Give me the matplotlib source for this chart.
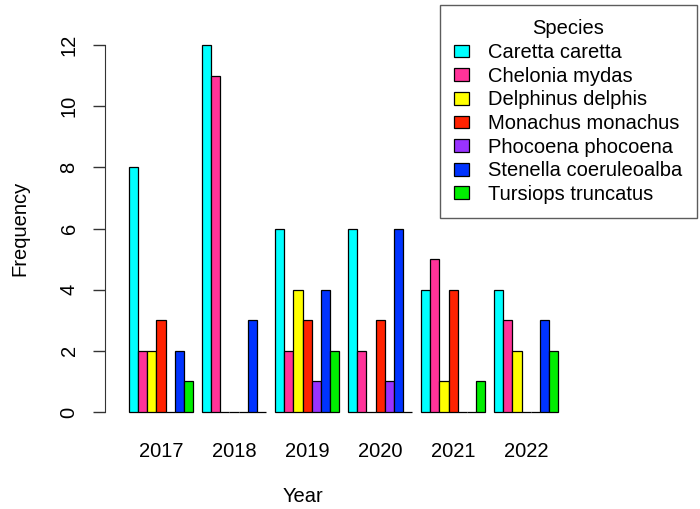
import numpy as np
import matplotlib.pyplot as plt
from matplotlib.patches import Patch

plt.rcParams['font.family'] = ['Liberation Sans', 'DejaVu Sans']

years = ['2017', '2018', '2019', '2020', '2021', '2022']
species = ['Caretta caretta', 'Chelonia mydas', 'Delphinus delphis',
           'Monachus monachus', 'Phocoena phocoena', 'Stenella coeruleoalba',
           'Tursiops truncatus']
colors = ['#00FFFF', '#FF3399', '#FFFF00', '#FF2200', '#9933FF', '#0033FF', '#00EE00']

caretta = [8, 12, 6, 6, 4, 4]
chelonia = [2, 11, 2, 2, 5, 3]
delphinus = [2, 0, 4, 0, 1, 2]
monachus = [3, 0, 3, 3, 4, 0]
phocoena = [0, 0, 1, 1, 0, 0]
stenella = [2, 3, 4, 6, 0, 3]
tursiops = [1, 0, 2, 0, 1, 2]
counts = [caretta, chelonia, delphinus, monachus, phocoena, stenella, tursiops]

FS = 14.5

fig = plt.figure(figsize=(7, 5.09), dpi=100)
W, H = 700, 509
left_px, right_px = 105, 697
top_px, bot_px = 30.3, 426.7
ax = fig.add_axes([left_px / W, 1 - bot_px / H, (right_px - left_px) / W, (bot_px - top_px) / H])

# R style barplot positions: groups of 7 bars, one bar gap between groups
unit = 9.13
x0 = (left_px - 119.9) / unit
x1 = (right_px - 119.9) / unit
ax.set_xlim(x0, x1)
ax.set_ylim(-0.48, 12.48)

nsp = len(species)
for j, (vals, c) in enumerate(zip(counts, colors)):
    xs = np.arange(len(years)) * (nsp + 1) + 1 + j
    ax.bar(xs, vals, width=1, align='edge', color=c, edgecolor='black', linewidth=0.9)

centers = np.arange(len(years)) * (nsp + 1) + 1 + nsp / 2
ax.set_xticks(centers)
ax.set_xticklabels(years, fontsize=FS)
ax.tick_params(axis='x', length=0, pad=11)

ax.set_yticks(np.arange(0, 13, 2))
ax.set_yticklabels([str(v) for v in range(0, 13, 2)], rotation=90, va='center', fontsize=FS)
ax.tick_params(axis='y', length=9, width=1, pad=10, color='#333333')

for s in ['top', 'right', 'bottom']:
    ax.spines[s].set_visible(False)
ax.spines['left'].set_bounds(0, 12)
ax.spines['left'].set_color('#333333')

ax.set_xlabel('Year', fontsize=FS)
ax.xaxis.set_label_coords((303 - left_px) / (right_px - left_px), -(497 - bot_px) / (bot_px - top_px))
ax.xaxis.label.set_va('center')
ax.set_ylabel('Frequency', fontsize=FS)
ax.yaxis.set_label_coords(-(left_px - 20) / (right_px - left_px), 0.5)
ax.yaxis.label.set_va('center')

handles = [Patch(facecolor=c, edgecolor='black', linewidth=0.9) for c in colors]
leg = ax.legend(handles, species, title='Species', loc='upper right',
                bbox_to_anchor=(1.0, 1 + (top_px - 5) / (bot_px - top_px)),
                fontsize=FS, title_fontsize=FS, frameon=True, fancybox=False,
                handlelength=0.75, handleheight=0.6, handletextpad=0.95,
                labelspacing=0.23, borderpad=0.72, borderaxespad=0)
leg.get_frame().set_edgecolor('#333333')
leg.get_frame().set_linewidth(1)

fig.savefig('out.png', dpi=100)
